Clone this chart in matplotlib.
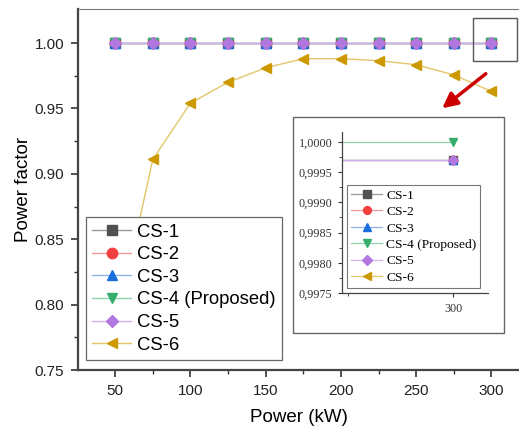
#!/usr/bin/env python3
"""Power factor vs power for the six charging station configurations."""

import matplotlib
matplotlib.use("Agg")
import matplotlib.pyplot as plt
from matplotlib.patches import Rectangle

W, H = 519, 428

power = [50, 75, 100, 125, 150, 175, 200, 225, 250, 275, 300]
pf_cs1 = [0.9997] * 11
pf_cs2 = [0.9997] * 11
pf_cs3 = [0.9997] * 11
pf_cs4 = [1.0000] * 11
pf_cs5 = [0.9997] * 11
pf_cs6 = [0.780, 0.911, 0.954, 0.970, 0.981, 0.988, 0.988, 0.9865, 0.9834, 0.9756, 0.963]

labels = ["CS-1", "CS-2", "CS-3", "CS-4 (Proposed)", "CS-5", "CS-6"]
series = [pf_cs1, pf_cs2, pf_cs3, pf_cs4, pf_cs5, pf_cs6]

# Origin "bright" palette, lines a bit lighter than markers
MARK_COLORS = ["#515151", "#F14040", "#1A6FDF", "#37AD6B", "#B177DE", "#CC9900"]
LINE_COLORS = ["#9a9a9a", "#f59a9a", "#8db3ea", "#8fd3ad", "#d3b0ee", "#e3c56a"]
MARKERS = ["s", "o", "^", "v", "D", "<"]
MSIZE = [7, 7.5, 7.5, 7.5, 6.5, 7.5]

plt.rcParams["font.family"] = ["Liberation Sans", "DejaVu Sans"]

fig = plt.figure(figsize=(W / 100, H / 100), dpi=100)


def fx(px):
    return px / W


def fy(py):
    return 1 - py / H


# ---- main axes
ax = fig.add_axes([fx(78), fy(370), fx(519) - fx(78) + 0.002, fy(9) - fy(370)])
handles = []
for vals, lab, mc, lc, mk, ms in zip(series, labels, MARK_COLORS, LINE_COLORS, MARKERS, MSIZE):
    (h,) = ax.plot(power, vals, color=lc, lw=1.0, marker=mk, markersize=ms,
                   markerfacecolor=mc, markeredgecolor=mc, label=lab)
    handles.append(h)

ax.set_xlim(25.3, 319)
ax.set_ylim(0.75, 1.026)
ax.set_xticks([50, 100, 150, 200, 250, 300])
ax.set_xticks([75, 125, 175, 225, 275], minor=True)
ax.set_yticks([0.75, 0.80, 0.85, 0.90, 0.95, 1.00])
ax.set_yticks([0.775, 0.825, 0.875, 0.925, 0.975], minor=True)
ax.set_yticklabels([f"{v:.2f}" for v in [0.75, 0.80, 0.85, 0.90, 0.95, 1.00]])
ax.tick_params(which="major", direction="out", length=5, width=1.2, labelsize=11,
               color="#333333", labelcolor="#222222", pad=5)
ax.tick_params(which="minor", direction="out", length=3, width=1.0, color="#333333")
for side in ["left", "bottom"]:
    ax.spines[side].set_linewidth(1.6)
    ax.spines[side].set_color("#444444")
ax.spines["top"].set_linewidth(0.8)
ax.spines["top"].set_color("#777777")
ax.spines["right"].set_visible(False)
ax.set_xlabel("Power (kW)", fontsize=13.5, labelpad=8)
ax.set_ylabel("Power factor", fontsize=13.5, labelpad=2)

leg = fig.legend(handles=handles, loc="lower left",
                 bbox_to_anchor=(fx(86), fy(360)), bbox_transform=fig.transFigure,
                 borderaxespad=0, fontsize=13.3, handlelength=2.1, handletextpad=0.3,
                 labelspacing=0.3, borderpad=0.35, frameon=True, fancybox=False,
                 framealpha=1)
leg.get_frame().set_edgecolor("#666666")
leg.get_frame().set_linewidth(0.9)

# zoom box and arrow
fig.patches.append(Rectangle((fx(473), fy(61)), fx(517) - fx(473), fy(18) - fy(61),
                             transform=fig.transFigure, fill=False,
                             edgecolor="#555555", lw=1.0))
fig.patches.append(Rectangle((fx(293), fy(333)), fx(504) - fx(293), fy(117) - fy(333),
                             transform=fig.transFigure, facecolor="white",
                             edgecolor="#666666", lw=1.0, zorder=2))
ax.annotate("", xy=(fx(440), fy(110)), xytext=(fx(488), fy(72)),
            xycoords="figure fraction", textcoords="figure fraction",
            arrowprops=dict(arrowstyle="-|>,head_length=0.9,head_width=0.45",
                            color="#cc0000", lw=2.5))

# ---- inset (detail at 300 kW)
ins = fig.add_axes([fx(342), fy(293), fx(488) - fx(342), fy(132) - fy(293)], zorder=3)
ins.patch.set_alpha(0)
for vals, lab, mc, lc, mk, ms in zip(series, labels, MARK_COLORS, LINE_COLORS, MARKERS, MSIZE):
    ins.plot(power, vals, color=lc, lw=0.9, marker=mk, markersize=ms * 0.75,
             markerfacecolor=mc, markeredgecolor=mc, label=lab)
ins.set_xlim(280, 306.3)
ins.set_ylim(0.9975, 1.000165)
ins.set_xticks([300])
ins.set_xticks([281], minor=True)
ins_y = [0.9975, 0.9980, 0.9985, 0.9990, 0.9995, 1.0000]
ins.set_yticks(ins_y)
ins.set_yticklabels([f"{v:.4f}".replace(".", ",") for v in ins_y])
ins.set_yticks([0.99775, 0.99825, 0.99875, 0.99925, 0.99975], minor=True)
ins.tick_params(which="major", direction="out", length=3, width=0.8, labelsize=8.7,
                color="#333333", labelcolor="#333333", labelfontfamily="Liberation Serif",
                pad=4)
ins.tick_params(which="minor", direction="out", length=2, width=0.6, color="#333333")
for side in ["top", "right"]:
    ins.spines[side].set_visible(False)
for side in ["left", "bottom"]:
    ins.spines[side].set_linewidth(0.9)
    ins.spines[side].set_color("#444444")
ileg = ins.legend(loc="lower left", bbox_to_anchor=(fx(347), fy(288)),
                  bbox_transform=fig.transFigure, borderaxespad=0,
                  prop={"family": "Liberation Serif", "size": 9.7},
                  handlelength=2.3, handletextpad=0.3, labelspacing=0.3,
                  borderpad=0.3, frameon=True, fancybox=False, framealpha=1)
ileg.get_frame().set_edgecolor("#777777")
ileg.get_frame().set_linewidth(0.8)

fig.savefig("out.png", dpi=100)
